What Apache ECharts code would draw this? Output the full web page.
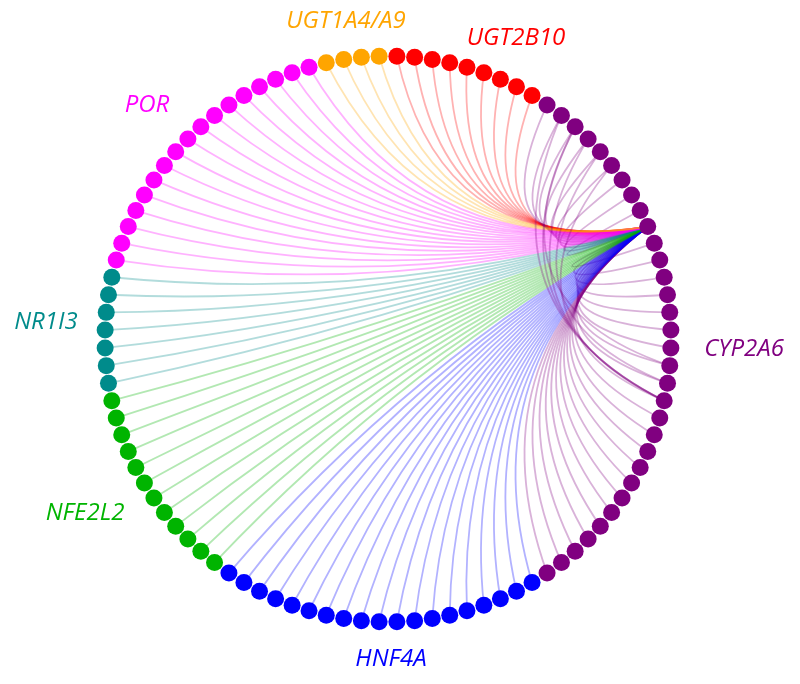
<!DOCTYPE html>
<html><head><meta charset="utf-8">
<script src="https://cdn.jsdelivr.net/npm/echarts@6/dist/echarts.min.js"></script>
<style>html,body{margin:0;padding:0;background:#fff}#c{width:800px;height:684px}</style>
</head><body><div id="c"></div>
<script>
// Gene groups, listed clockwise round the ring starting at 12 o'clock
const groupNames  = ['UGT2B10', 'CYP2A6', 'HNF4A', 'NFE2L2', 'NR1I3', 'POR', 'UGT1A4/A9'];
const groupCounts = [9, 32, 19, 12, 7, 17, 4];
// Every node links to this hub node (1-based member of its group)
const hubGroup = 'CYP2A6';
const hubMember = 10;
// Extra links between CYP2A6 members [from, to] (1-based)
const extraLinks = [[2, 20], [3, 18], [4, 20], [5, 19], [6, 20], [3, 20]];
// Nodes (clockwise from 12 o'clock) before the 3 o'clock start of the circular layout
const ringOffset = 25;

// styles
const groupColors = ['#ff0000', '#800080', '#0000ff', '#00b400', '#008b8b', '#ff00ff', '#ffa500'];
const labelPos = {
  'UGT2B10': [516, 38], 'CYP2A6': [744, 349], 'HNF4A': [391, 659], 'NFE2L2': [85, 513],
  'NR1I3': [46, 322], 'POR': [147, 105], 'UGT1A4/A9': [346, 21]
};

const ring = [];
groupNames.forEach((g, gi) => {
  for (let k = 1; k <= groupCounts[gi]; k++) {
    ring.push({ name: g + '#' + k, color: groupColors[gi] });
  }
});
const nodes = ring.slice(ringOffset).concat(ring.slice(0, ringOffset))
  .map(n => ({ name: n.name, itemStyle: { color: n.color } }));
const hubName = hubGroup + '#' + hubMember;
const hubColor = groupColors[groupNames.indexOf(hubGroup)];
const links = [];
ring.forEach(n => {
  if (n.name !== hubName) links.push({ source: n.name, target: hubName, lineStyle: { color: n.color } });
});
extraLinks.forEach(([a, b]) => links.push({
  source: hubGroup + '#' + a, target: hubGroup + '#' + b, lineStyle: { color: hubColor }
}));

const chart = echarts.init(document.getElementById('c'), null, { renderer: 'canvas' });
chart.setOption({
  animation: false,
  backgroundColor: '#fff',
  series: [{
    type: 'graph',
    layout: 'circular',
    left: 105, top: 56, width: 566, height: 566,
    symbol: 'circle',
    symbolSize: 17,
    roam: false,
    label: { show: false },
    emphasis: { disabled: true },
    lineStyle: { width: 1.8, opacity: 0.3, curveness: 0.2 },
    data: nodes,
    links: links
  }],
  graphic: groupNames.map((g, gi) => ({
    type: 'text',
    x: labelPos[g][0], y: labelPos[g][1],
    style: {
      text: g, fill: groupColors[gi],
      font: 'italic 24px "Open Sans", "Noto Sans", sans-serif',
      align: 'center', verticalAlign: 'middle'
    }
  }))
});
</script></body></html>
